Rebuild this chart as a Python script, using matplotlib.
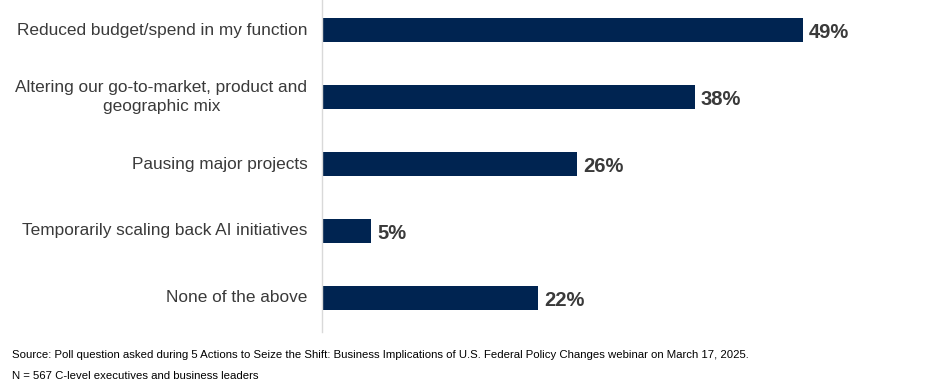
import matplotlib
matplotlib.use("Agg")
import matplotlib.pyplot as plt

categories = [
    "Reduced budget/spend in my function",
    "Altering our go-to-market, product and\ngeographic mix",
    "Pausing major projects",
    "Temporarily scaling back AI initiatives",
    "None of the above",
]
values = [49, 38, 26, 5, 22]
value_labels = ["49%", "38%", "26%", "5%", "22%"]
source_text = ("Source: Poll question asked during 5 Actions to Seize the Shift: Business Implications "
               "of U.S. Federal Policy Changes webinar on March 17, 2025.")
n_text = "N = 567 C-level executives and business leaders"

plt.rcParams['font.family'] = ['Liberation Sans', 'DejaVu Sans']

W, H = 936, 385
fig = plt.figure(figsize=(W / 100, H / 100), dpi=100)
left_px, right_px, top_px, bot_px = 322, 936, 0, 332
ax = fig.add_axes([left_px / W, 1 - bot_px / H, (right_px - left_px) / W, (bot_px - top_px) / H])

px_per_unit = 481 / 49
ax.set_xlim(0, (right_px - left_px) / px_per_unit)
ax.set_ylim(4 + 34 / 67, -30 / 67)

bar_color = "#002451"
ypos = list(range(len(categories)))
ax.barh(ypos, values, height=0.36, color=bar_color)

for y, v, lab in zip(ypos, values, value_labels):
    ax.text(v + 0.6, y + 0.03, lab, va="center", ha="left", fontsize=14.5,
            fontweight="bold", color="#3a3a3a")

for y, c in zip(ypos, categories):
    ax.text(-1.5, y, c, va="center", ha="right", multialignment="center",
            fontsize=12.4, color="#3a3a3a", linespacing=1.3)

for s in ["top", "right", "bottom"]:
    ax.spines[s].set_visible(False)
ax.spines["left"].set_color("#d9d9d9")
ax.spines["left"].set_linewidth(1)
ax.set_xticks([])
ax.set_yticks([])

fig.text(12 / W, 1 - 355 / H, source_text, fontsize=8.2, color="#000000", va="center", ha="left")
fig.text(12 / W, 1 - 376 / H, n_text, fontsize=8.2, color="#000000", va="center", ha="left")

fig.savefig("out.png", dpi=100)
